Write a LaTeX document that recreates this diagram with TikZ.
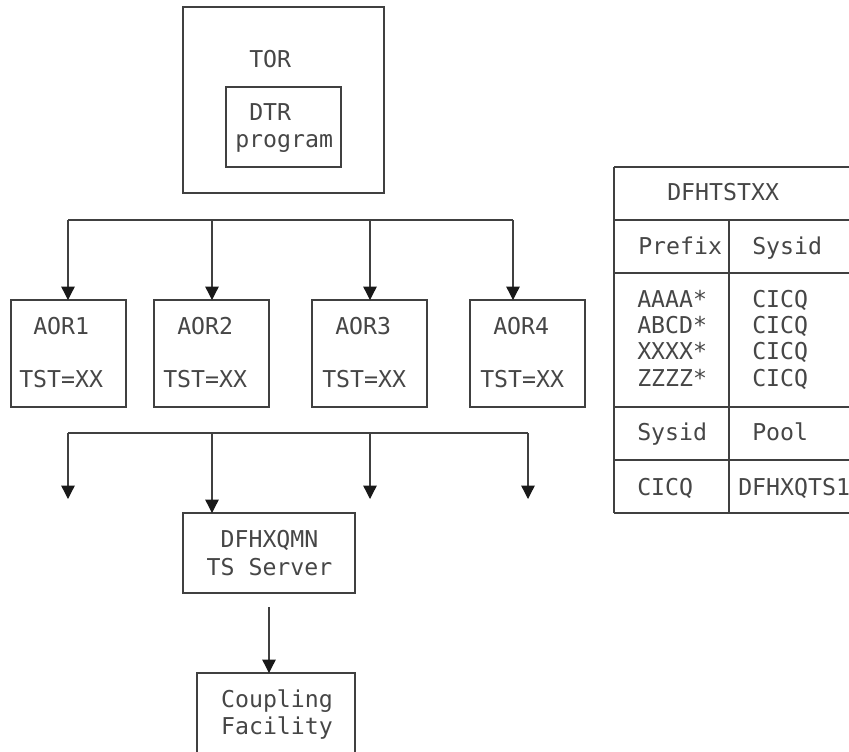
\documentclass[tikz,border=0pt]{standalone}
\usepackage{fontspec}
\newfontfamily\monofont{DejaVu Sans Mono}
\usetikzlibrary{arrows.meta}

\begin{document}
\begin{tikzpicture}[x=0.75pt,y=0.75pt,yscale=-1,xscale=1,
  line/.style={draw={rgb, 255:red, 64; green, 64; blue, 64 }, line width=1pt},
  arr/.style={line, -{Triangle[width=10pt,length=10pt,color={rgb, 255:red, 25; green, 25; blue, 25 }]}},
  box/.style={line, rectangle, inner sep=0pt, outer sep=0pt, anchor=north west},
  lbl/.style={inner sep=0pt, anchor=base west, text={rgb, 255:red, 70; green, 70; blue, 70 }, font=\monofont\fontsize{17.4}{21}\selectfont},
  clbl/.style={lbl, anchor=base}]
\useasboundingbox (0,0) rectangle (849,751);
\clip (0,0) rectangle (849,751);

%Shape: Rectangle TOR and DTR program
\node [box, minimum width=150.75pt, minimum height=139.5pt] (tor) at (183,7) {};
\node [box, minimum width=86.25pt, minimum height=60pt] (dtr) at (226,87) {};

%Shape: Rectangle AOR1..AOR4
\node [box, minimum width=86.25pt, minimum height=80.25pt] (aor1) at (11,300) {};
\node [box, minimum width=86.25pt, minimum height=80.25pt] (aor2) at (154,300) {};
\node [box, minimum width=86.25pt, minimum height=80.25pt] (aor3) at (312,300) {};
\node [box, minimum width=86.25pt, minimum height=80.25pt] (aor4) at (470,300) {};

%Shape: Rectangle TS server and coupling facility
\node [box, minimum width=129pt, minimum height=60pt] (xqmn) at (183,513) {};
\node [box, minimum width=118.5pt, minimum height=75pt] (cf) at (197,673) {};

%Straight Lines upper bus
\coordinate (tb1) at (68,220);
\coordinate (tb2) at (212,220);
\coordinate (tb3) at (370,220);
\coordinate (tb4) at (513,220);
\draw [line] (tb1) -- (tb4) ;
\foreach \i in {1,...,4}
  \draw [arr] (tb\i) -- (tb\i |- aor\i.north) ;

%Straight Lines lower bus
\coordinate (lb1) at (68,433);
\coordinate (lb2) at (212,433);
\coordinate (lb3) at (370,433);
\coordinate (lb4) at (528,433);
\coordinate (le1) at (68,499);
\coordinate (le3) at (370,499);
\coordinate (le4) at (528,499);
\draw [line] (lb1) -- (lb4) ;
\draw [arr] (lb1) -- (le1) ;
\draw [arr] (lb3) -- (le3) ;
\draw [arr] (lb4) -- (le4) ;
\draw [arr] (lb2) -- (lb2 |- xqmn.north) ;

%Straight Lines server to facility
\coordinate (cfin) at (269,607);
\draw [arr] (cfin) -- (cfin |- cf.north) ;

%Shape: Table DFHTSTXX
\foreach \y in {167,220,273,407,460,513}
  \draw [line] (614,\y) -- (870,\y) ;
\draw [line] (614,167) -- (614,513) ;
\draw [line] (729,220) -- (729,513) ;

% Text Node
\draw (249,67) node [lbl] (tortxt) {TOR};
\draw (249,120) node [lbl] (dtrtxt) {DTR};
\draw (235,147) node [lbl] (progtxt) {program};
% Text Node
\draw (33,334) node [lbl] (aor1a) {AOR1};
\draw (19,387) node [lbl] (aor1b) {TST=XX};
\draw (177,334) node [lbl] (aor2a) {AOR2};
\draw (163,387) node [lbl] (aor2b) {TST=XX};
\draw (335,334) node [lbl] (aor3a) {AOR3};
\draw (322,387) node [lbl] (aor3b) {TST=XX};
\draw (493,334) node [lbl] (aor4a) {AOR4};
\draw (480,387) node [lbl] (aor4b) {TST=XX};
% Text Node
\draw (269.5,547) node [clbl] (xqmna) {DFHXQMN};
\draw (269.5,575) node [clbl] (xqmnb) {TS Server};
\draw (277,707) node [clbl] (cfa) {Coupling};
\draw (277,734) node [clbl] (cfb) {Facility};
% Text Node
\draw (667,200) node [lbl] (tsthead) {DFHTSTXX};
\draw (638,254) node [lbl] (prefhd) {Prefix};
\draw (752,254) node [lbl] (syshd) {Sysid};
\draw (637,307) node [lbl] (pfx1) {AAAA*};
\draw (637,333) node [lbl] (pfx2) {ABCD*};
\draw (637,359) node [lbl] (pfx3) {XXXX*};
\draw (637,386) node [lbl] (pfx4) {ZZZZ*};
\draw (752,307) node [lbl] (sys1) {CICQ};
\draw (752,333) node [lbl] (sys2) {CICQ};
\draw (752,359) node [lbl] (sys3) {CICQ};
\draw (752,386) node [lbl] (sys4) {CICQ};
\draw (637,440) node [lbl] (poolhd) {Sysid};
\draw (752,440) node [lbl] (poolhd2) {Pool};
\draw (637,495) node [lbl] (poolsys) {CICQ};
\draw (738,495) node [lbl] (poolname) {DFHXQTS1};

\end{tikzpicture}
\end{document}
